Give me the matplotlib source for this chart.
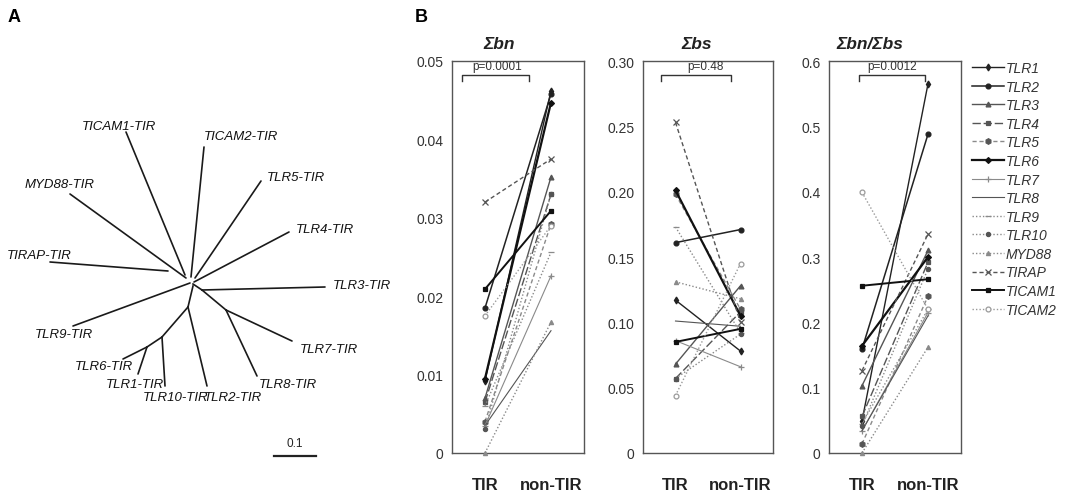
import matplotlib
matplotlib.use("Agg")
import matplotlib.pyplot as plt

plt.rcParams['font.family'] = ['Liberation Sans', 'DejaVu Sans']

# ---------------- data ----------------
genes = ["TLR1", "TLR2", "TLR3", "TLR4", "TLR5", "TLR6", "TLR7", "TLR8",
         "TLR9", "TLR10", "MYD88", "TIRAP", "TICAM1", "TICAM2"]
groups = ["TIR", "non-TIR"]

bn_tir = [0.0092, 0.0185, 0.0070, 0.0065, 0.0040, 0.0095, 0.0035, 0.0035,
          0.0060, 0.0030, 0.0000, 0.0320, 0.0209, 0.0175]
bn_non = [0.0462, 0.0458, 0.0352, 0.0330, 0.0292, 0.0447, 0.0226, 0.0156,
          0.0256, 0.0330, 0.0167, 0.0375, 0.0309, 0.0290]

bs_tir = [0.117, 0.161, 0.068, 0.057, 0.198, 0.201, 0.086, 0.101,
          0.173, 0.057, 0.131, 0.253, 0.085, 0.044]
bs_non = [0.078, 0.171, 0.128, 0.108, 0.110, 0.105, 0.066, 0.097,
          0.092, 0.091, 0.118, 0.100, 0.095, 0.145]

ratio_tir = [0.049, 0.159, 0.103, 0.056, 0.014, 0.164, 0.034, 0.034,
             0.045, 0.042, 0.000, 0.126, 0.256, 0.399]
ratio_non = [0.565, 0.488, 0.310, 0.292, 0.240, 0.300, 0.215, 0.210,
             0.220, 0.282, 0.162, 0.335, 0.266, 0.220]

panel_titles = ["Σbn", "Σbs", "Σbn/Σbs"]
p_values = ["p=0.0001", "p=0.48", "p=0.0012"]
ylims = [0.05, 0.30, 0.6]
yticks = [[0, 0.01, 0.02, 0.03, 0.04, 0.05],
          [0, 0.05, 0.10, 0.15, 0.20, 0.25, 0.30],
          [0, 0.1, 0.2, 0.3, 0.4, 0.5, 0.6]]
yticklabels = [["0", "0.01", "0.02", "0.03", "0.04", "0.05"],
               ["0", "0.05", "0.10", "0.15", "0.20", "0.25", "0.30"],
               ["0", "0.1", "0.2", "0.3", "0.4", "0.5", "0.6"]]

# tree (panel A): leaves, tips, attachment points (pixel layout of the scanned tree)
leaf_names = ["TICAM1-TIR", "TICAM2-TIR", "MYD88-TIR", "TIRAP-TIR", "TLR5-TIR",
              "TLR4-TIR", "TLR3-TIR", "TLR9-TIR", "TLR7-TIR", "TLR8-TIR",
              "TLR2-TIR", "TLR10-TIR", "TLR6-TIR", "TLR1-TIR"]
tip_x = [126, 204, 70, 50, 261, 289, 325, 73, 292, 257, 207, 165, 123, 138]
tip_y = [133, 148, 195, 263, 182, 233, 288, 327, 342, 377, 387, 387, 360, 375]
base_x = [185, 191, 186, 168, 195, 194, 202, 190, 226, 226, 188, 162, 147, 147]
base_y = [276, 278, 279, 272, 279, 283, 291, 284, 311, 311, 308, 338, 348, 348]
label_x = [82, 204, 25, 7, 267, 296, 333, 35, 300, 259, 204, 143, 75, 106]
label_y = [127, 137, 185, 256, 178, 230, 286, 335, 350, 385, 398, 398, 367, 385]
inner_x0 = [193, 202, 193, 188, 162]
inner_y0 = [285, 291, 287, 308, 338]
inner_x1 = [202, 226, 188, 162, 147]
inner_y1 = [291, 311, 308, 338, 348]

# ---------------- styles ----------------
dark, mid, light = "#222222", "#555555", "#8a8a8a"
styles = {
    "TLR1":   dict(ls="-", color=dark, lw=1.0, marker="d", ms=3.5, mfc=dark),
    "TLR2":   dict(ls="-", color=dark, lw=1.1, marker="o", ms=3.5, mfc=dark),
    "TLR3":   dict(ls="-", color=mid, lw=1.0, marker="^", ms=3.5, mfc=mid),
    "TLR4":   dict(ls=(0, (6, 2)), color=mid, lw=1.0, marker="s", ms=3.0, mfc=mid),
    "TLR5":   dict(ls=(0, (3, 2)), color=light, lw=1.0, marker="h", ms=4.0, mfc=mid),
    "TLR6":   dict(ls="-", color="#111111", lw=1.6, marker="D", ms=3.0, mfc="#111111"),
    "TLR7":   dict(ls="-", color=light, lw=0.8, marker="+", ms=4.0, mfc=light),
    "TLR8":   dict(ls="-", color=mid, lw=0.8, marker="None", ms=0, mfc=mid),
    "TLR9":   dict(ls=(0, (1, 1.5)), color=light, lw=1.0, marker="_", ms=4.0, mfc=light),
    "TLR10":  dict(ls=(0, (1, 1.5)), color=light, lw=1.0, marker="o", ms=3.0, mfc=mid),
    "MYD88":  dict(ls=(0, (1, 1.5)), color=light, lw=1.0, marker="^", ms=3.0, mfc=light),
    "TIRAP":  dict(ls=(0, (3, 2)), color=mid, lw=1.0, marker="x", ms=4.0, mfc=mid),
    "TICAM1": dict(ls="-", color="#111111", lw=1.4, marker="s", ms=3.0, mfc="#111111"),
    "TICAM2": dict(ls=(0, (1, 1.5)), color="#9a9a9a", lw=1.0, marker="o", ms=3.5, mfc="white"),
}

W, H = 1072, 502
fig = plt.figure(figsize=(W / 100, H / 100), dpi=100)
fig.patch.set_facecolor("white")

# ---------------- panel A: tree ----------------
axA = fig.add_axes([0, 0, 400 / W, 1])
axA.set_xlim(0, 400)
axA.set_ylim(H, 0)
axA.axis("off")
for i, name in enumerate(leaf_names):
    axA.plot([base_x[i], tip_x[i]], [base_y[i], tip_y[i]], color="#1a1a1a", lw=1.2,
             solid_capstyle="round")
    axA.text(label_x[i], label_y[i], name, ha="left", va="center", fontsize=9.5,
             style="italic", color="#111111")
for i in range(len(inner_x0)):
    axA.plot([inner_x0[i], inner_x1[i]], [inner_y0[i], inner_y1[i]], color="#1a1a1a", lw=1.2)
axA.plot([274, 316], [457, 457], color="#222222", lw=1.6)
axA.text(295, 450, "0.1", ha="center", va="bottom", fontsize=8.5, color="#222222")
fig.text(8 / W, 1 - 18 / H, "A", fontsize=13, fontweight="bold", va="center", ha="left")
fig.text(415 / W, 1 - 18 / H, "B", fontsize=13, fontweight="bold", va="center", ha="left")

# ---------------- panel B ----------------
tir_sets = [bn_tir, bs_tir, ratio_tir]
non_sets = [bn_non, bs_non, ratio_non]
ax_left = [452, 643, 829]
ax_w = [132, 130, 132]
title_fx = [0.36, 0.41, 0.31]
bracket_x0 = [-0.35, -0.22, -0.05]
bracket_x1 = [0.67, 0.85, 0.95]
p_x = [0.18, 0.46, 0.45]

handles = []
for k in range(3):
    ax = fig.add_axes([ax_left[k] / W, (H - 454) / H, ax_w[k] / W, 392 / H])
    for g_i, g in enumerate(genes):
        st = styles[g]
        ln, = ax.plot([0, 1], [tir_sets[k][g_i], non_sets[k][g_i]],
                      linestyle=st["ls"], color=st["color"], lw=st["lw"],
                      marker=st["marker"], markersize=st["ms"],
                      markerfacecolor=st["mfc"],
                      markeredgecolor=st["color"] if st["mfc"] == "white" else st["mfc"],
                      markeredgewidth=0.9, label=g, clip_on=False, zorder=3)
        if k == 2:
            handles.append(ln)
    ax.set_xlim(-0.5, 1.5)
    ax.set_ylim(0, ylims[k])
    ax.set_yticks(yticks[k])
    ax.set_yticklabels(yticklabels[k])
    ax.set_xticks([0, 1])
    ax.set_xticklabels(groups, fontweight="bold", fontsize=12)
    ax.tick_params(axis="y", length=0, pad=6, labelsize=10, labelcolor="#333333")
    ax.tick_params(axis="x", length=0, pad=17, labelcolor="#222222")
    for sp in ax.spines.values():
        sp.set_color("#555555")
        sp.set_linewidth(1.0)
    ax.text(title_fx[k], 1.045, panel_titles[k], transform=ax.transAxes, ha="center",
            va="center", fontsize=12.5, fontweight="bold", style="italic", color="#222222")
    # significance bracket
    tr = ax.get_xaxis_transform()
    ax.plot([bracket_x0[k], bracket_x0[k], bracket_x1[k], bracket_x1[k]],
            [0.950, 0.964, 0.964, 0.950], transform=tr, color="#333333", lw=1.0, clip_on=False)
    ax.text(p_x[k], 0.987, p_values[k], transform=tr, ha="center", va="center",
            fontsize=8.5, color="#333333")

leg = fig.legend(handles, genes, loc="upper left", bbox_to_anchor=(972 / W, 1 - 62 / H),
                 frameon=False, prop=dict(size=10, style="italic"), handlelength=2.3,
                 handletextpad=0.15, labelspacing=0.33, borderaxespad=0, borderpad=0)
for t in leg.get_texts():
    t.set_color("#333333")

fig.savefig("out.png", dpi=100, facecolor="white")
